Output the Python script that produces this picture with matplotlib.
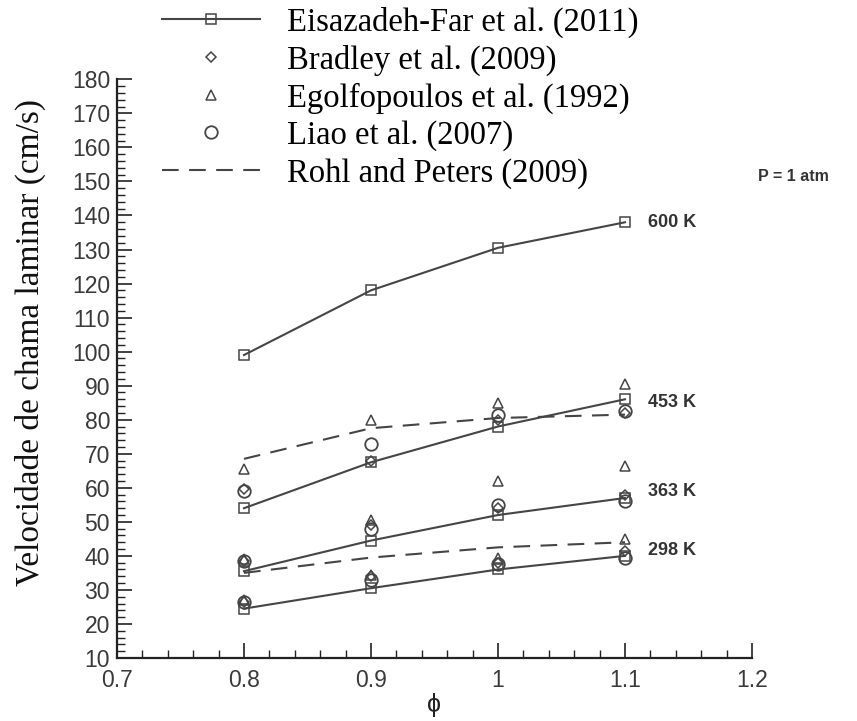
# 导入所需库
import matplotlib
matplotlib.use("Agg")
import matplotlib.pyplot as plt
from matplotlib.ticker import MultipleLocator

# -------------------------- 数据 --------------------------
phi = [0.8, 0.9, 1.0, 1.1]

# Eisazadeh-Far et al. (2011)，四个温度
eisazadeh_600 = [99, 118, 130.5, 138]
eisazadeh_453 = [54, 67.5, 78, 86]
eisazadeh_363 = [35.5, 44.5, 52, 57]
eisazadeh_298 = [24.5, 30.5, 36, 40]

# Bradley et al. (2009)
bradley_453 = [59.5, 68, 80, 82]
bradley_363 = [38.5, 49, 54, 58]
bradley_298 = [26.5, 34, 38, 41.5]

# Egolfopoulos et al. (1992)
egolf_453 = [65.5, 80, 85, 90.5]
egolf_363 = [39, 50.5, 62, 66.5]
egolf_298 = [27, 34.5, 39.5, 45]

# Liao et al. (2007)
liao_453 = [59, 73, 81.5, 82.5]
liao_363 = [38.5, 48, 55, 56]
liao_298 = [26.5, 33, 37.5, 39.5]

# Rohl and Peters (2009)
rohl_453 = [68.5, 77.5, 80.5, 81.5]
rohl_298 = [35, 39.5, 42.5, 44]

temp_labels = ["600 K", "453 K", "363 K", "298 K"]
temp_label_y = [138, 85, 59, 41.5]

# -------------------------- 样式 --------------------------
GRAY = "#454545"
TICK_COLOR = "#3a3a3a"
SERIF = ["Liberation Serif", "DejaVu Serif"]
SANS = ["Liberation Sans", "DejaVu Sans"]
DASH = (0, (8, 5))


def plot_flame_speed():
    fig = plt.figure(figsize=(8.57, 7.21), dpi=100)
    ax = fig.add_axes([0.1365, 0.0874, 0.741, 0.8026])

    # Eisazadeh-Far：实线 + 方块
    for i, ys in enumerate([eisazadeh_600, eisazadeh_453, eisazadeh_363, eisazadeh_298]):
        ax.plot(phi, ys, color=GRAY, linewidth=1.5, marker="s", markersize=6.5,
                markerfacecolor="none", markeredgecolor=GRAY, markeredgewidth=1.1,
                label="Eisazadeh-Far et al. (2011)" if i == 0 else None, zorder=3)

    # Rohl and Peters：虚线
    for i, ys in enumerate([rohl_453, rohl_298]):
        ax.plot(phi, ys, color=GRAY, linewidth=1.5, linestyle=DASH,
                label="Rohl and Peters (2009)" if i == 0 else None, zorder=2)

    # 实验点
    for i, ys in enumerate([bradley_453, bradley_363, bradley_298]):
        ax.plot(phi, ys, linestyle="none", marker="D", markersize=5,
                markerfacecolor="none", markeredgecolor=GRAY, markeredgewidth=1.1,
                label="Bradley et al. (2009)" if i == 0 else None, zorder=4)
    for i, ys in enumerate([egolf_453, egolf_363, egolf_298]):
        ax.plot(phi, ys, linestyle="none", marker="^", markersize=7,
                markerfacecolor="none", markeredgecolor=GRAY, markeredgewidth=1.1,
                label="Egolfopoulos et al. (1992)" if i == 0 else None, zorder=4)
    for i, ys in enumerate([liao_453, liao_363, liao_298]):
        ax.plot(phi, ys, linestyle="none", marker="o", markersize=9,
                markerfacecolor="none", markeredgecolor=GRAY, markeredgewidth=1.3,
                label="Liao et al. (2007)" if i == 0 else None, zorder=4)

    # 温度标注
    for txt, yv in zip(temp_labels, temp_label_y):
        ax.text(1.118, yv, txt, fontsize=13, fontweight="bold", family=SANS,
                color="#333333", va="center", ha="left")
    ax.text(1.205, 151.5, "P = 1 atm", fontsize=11.5, fontweight="bold", family=SANS,
            color="#333333", va="center", ha="left", clip_on=False)

    # 坐标轴
    ax.set_xlim(0.7, 1.2)
    ax.set_ylim(10, 180)
    ax.xaxis.set_minor_locator(MultipleLocator(0.02))
    ax.yaxis.set_major_locator(MultipleLocator(10))
    ax.yaxis.set_minor_locator(MultipleLocator(2))
    ax.set_xticks([0.7, 0.8, 0.9, 1.0, 1.1, 1.2])
    ax.set_xticklabels(["0.7", "0.8", "0.9", "1", "1.1", "1.2"])

    for side in ["top", "right"]:
        ax.spines[side].set_visible(False)
    for side in ["left", "bottom"]:
        ax.spines[side].set_linewidth(1.6)
        ax.spines[side].set_color("#222222")

    ax.tick_params(which="major", direction="in", length=11, width=1.2,
                   color="#222222", labelsize=16.5, labelcolor=TICK_COLOR, pad=5)
    ax.tick_params(axis="x", which="major", pad=8)
    ax.tick_params(which="minor", direction="in", length=5.5, width=1.0, color="#222222")
    for lab in ax.get_xticklabels() + ax.get_yticklabels():
        lab.set_family(SANS)

    ax.set_xlabel("ϕ", fontsize=18, family=SANS, color="#222222", labelpad=1)
    ax.set_ylabel("Velocidade de chama laminar (cm/s)", fontsize=24, family=SERIF,
                  color="#111111")
    ax.yaxis.set_label_coords(-0.112, 0.545)

    # 图例（按原图顺序）
    handles, labels = ax.get_legend_handles_labels()
    order = ["Eisazadeh-Far et al. (2011)", "Bradley et al. (2009)",
             "Egolfopoulos et al. (1992)", "Liao et al. (2007)", "Rohl and Peters (2009)"]
    hl = dict(zip(labels, handles))
    fig.legend([hl[k] for k in order], order, loc="upper left",
               bbox_to_anchor=(0.164, 1.02), frameon=False,
               prop={"family": SERIF, "size": 23.5}, handlelength=3.0,
               handletextpad=0.85, labelspacing=0.2, borderpad=0.15)

    # 最底部的 "10" 稍微上移，避免与 "0.7" 重叠
    fig.canvas.draw()
    ax.yaxis.get_major_ticks()[0].label1.set_verticalalignment("bottom")

    fig.savefig("out.png", dpi=100)


if __name__ == "__main__":
    plot_flame_speed()
